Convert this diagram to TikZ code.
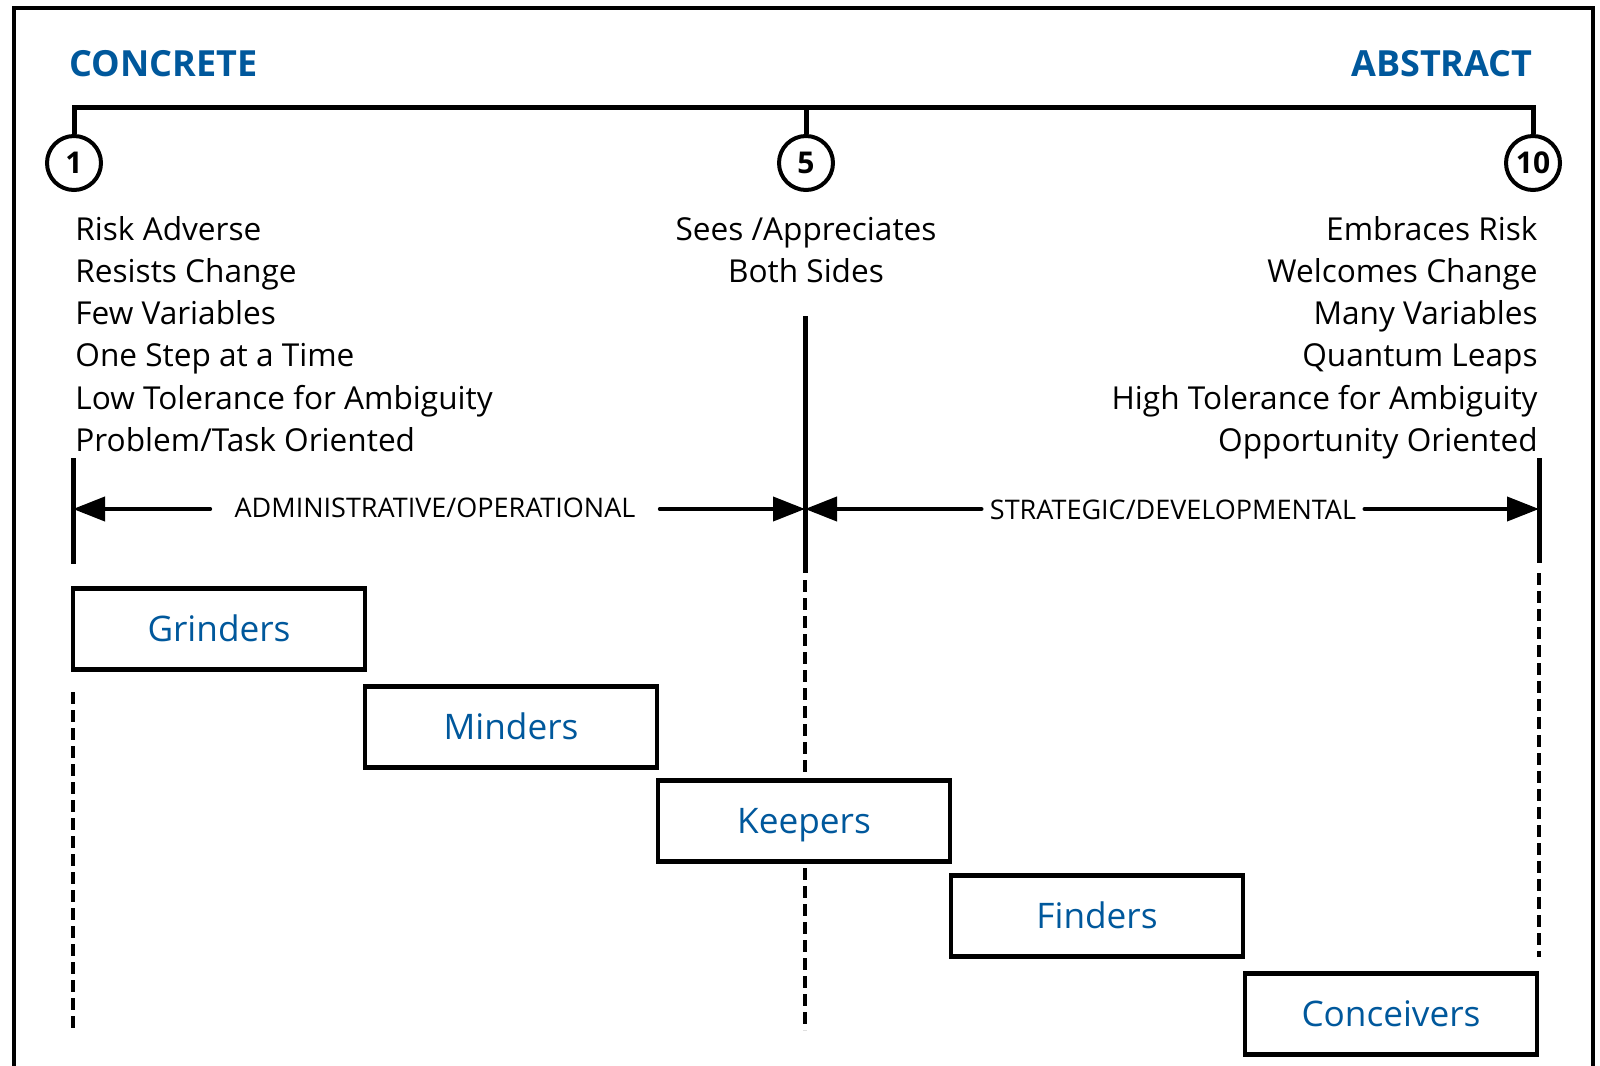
\documentclass[tikz,border=0pt]{standalone}
\usepackage{fontspec}
\setmainfont{Open Sans}
\usetikzlibrary{arrows.meta}
\definecolor{titleblue}{RGB}{0,88,156}
\begin{document}
\begin{tikzpicture}[x=0.5pt,y=-0.5pt,
  frameline/.style={line width=2pt},
  scaleline/.style={line width=2.5pt},
  spanline/.style={line width=2pt, line cap=round},
  tip/.style={-{Triangle[length=16pt,width=12pt]}},
  dashline/.style={line width=1.6pt, dash pattern=on 6pt off 3pt},
  tick/.style={circle, draw, line width=2pt, minimum size=27pt, inner sep=0pt,
    font=\fontsize{15}{18}\selectfont\bfseries},
  heading/.style={inner sep=0pt, text=titleblue, font=\fontsize{18}{22}\selectfont\bfseries},
  trait/.style={inner sep=0pt, font=\fontsize{15.8}{21}\selectfont},
  span/.style={inner ysep=0pt, font=\fontsize{13.5}{16}\selectfont},
  level/.style={draw, line width=2.2pt, fill=white, minimum width=146pt,
    minimum height=40.5pt, inner sep=0pt, text=titleblue,
    text height=12.5pt, text depth=0pt,
    font=\fontsize{17.6}{21}\selectfont}]
\useasboundingbox (0,0) rectangle (1600,1065);

% outer frame, open at the bottom
\draw[frameline] (14,1070) -- (14,8) -- (1593,8) -- (1593,1070);

% headings
\node[heading, anchor=base west] (concrete) at (69,76) {CONCRETE};
\node[heading, anchor=base east] (abstract) at (1533,77) {ABSTRACT};

% scale bar with markers
\coordinate (barL) at (74,108);
\coordinate (barM) at (806,108);
\coordinate (barR) at (1533,108);
\node[tick] (c1) at (74,163) {1};
\node[tick] (c5) at (806,163) {5};
\node[tick] (c10) at (1533,163) {10};
\draw[scaleline] (c1.north) -- (barL) -- (barR) -- (c10.north);
\draw[scaleline] (barM) -- (c5.north);

% traits at each end
\foreach \t [count=\i] in {Risk Adverse, Resists Change, Few Variables,
    One Step at a Time, Low Tolerance for Ambiguity, Problem/Task Oriented}
  \node[trait, anchor=base west] (left\i) at (75,{240+42.3*(\i-1)}) {\t};
\foreach \t [count=\i] in {Embraces Risk, Welcomes Change, Many Variables,
    Quantum Leaps, High Tolerance for Ambiguity, Opportunity Oriented}
  \node[trait, anchor=base east] (right\i) at (1538,{240+42.3*(\i-1)}) {\t};
\node[trait, anchor=base] (mid1) at (806,240) {Sees /Appreciates};
\node[trait, anchor=base] (mid2) at (806,282) {Both Sides};

% boundary lines
\coordinate (lTop) at (73,458);  \coordinate (lBot) at (73,564);
\coordinate (mTop) at (805,316); \coordinate (mBot) at (805,573);
\coordinate (rTop) at (1539,458); \coordinate (rBot) at (1539,563);
\draw[scaleline] (lTop) -- (lBot);
\draw[scaleline] (mTop) -- (mBot);
\draw[scaleline] (rTop) -- (rBot);

% dashed continuations
\coordinate (lDa) at (73,692);  \coordinate (lDb) at (73,1030);
\coordinate (mDa) at (805,580); \coordinate (mDb) at (805,1030);
\coordinate (rDa) at (1539,573); \coordinate (rDb) at (1539,957);
\draw[dashline] (lDa) -- (lDb);
\draw[dashline] (mDa) -- (mDb);
\draw[dashline] (rDa) -- (rDb);

% span arrows
\coordinate (lArr) at (73,509);
\coordinate (mArr) at (805,509);
\coordinate (rArr) at (1539,509);
\node[span, inner xsep=12pt, anchor=base] (admin) at (435,517) {ADMINISTRATIVE/OPERATIONAL};
\node[span, inner xsep=4pt, anchor=base] (strat) at (1173,519) {STRATEGIC/DEVELOPMENTAL};
\draw[spanline, tip] (admin.west |- lArr) -- (lArr);
\draw[spanline, tip] (admin.east |- mArr) -- (mArr);
\draw[spanline, tip] (strat.west |- mArr) -- (mArr);
\draw[spanline, tip] (strat.east |- rArr) -- (rArr);

% role boxes
\node[level] (grinders) at (219,629) {Grinders};
\node[level] (minders) at (511,727) {Minders};
\node[level] (keepers) at (804,821) {Keepers};
\node[level] (finders) at (1097,916) {Finders};
\node[level] (conceivers) at (1391,1014) {Conceivers};
\end{tikzpicture}
\end{document}
